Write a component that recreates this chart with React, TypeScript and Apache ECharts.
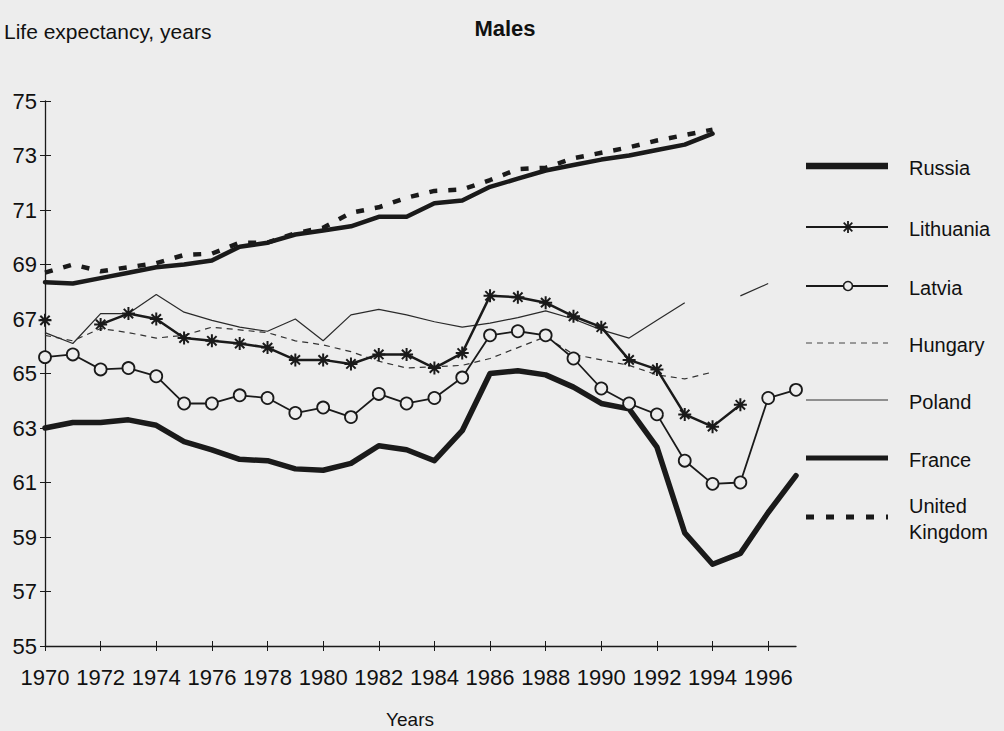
import React, { useEffect, useRef } from "react";
import * as echarts from "echarts";

// Male life expectancy at birth, 1970-1997
const years = [
  "1970", "1971", "1972", "1973", "1974", "1975", "1976", "1977", "1978", "1979",
  "1980", "1981", "1982", "1983", "1984", "1985", "1986", "1987", "1988", "1989",
  "1990", "1991", "1992", "1993", "1994", "1995", "1996", "1997",
];

const yTicks = [55, 57, 59, 61, 63, 65, 67, 69, 71, 73, 75];

const russia = [
  63.0, 63.2, 63.2, 63.3, 63.1, 62.5, 62.2, 61.85, 61.8, 61.5,
  61.45, 61.7, 62.35, 62.2, 61.8, 62.9, 65.0, 65.1, 64.95, 64.5,
  63.9, 63.7, 62.3, 59.15, 58.0, 58.4, 59.9, 61.25,
];
const lithuania = [
  66.95, null, 66.8, 67.2, 67.0, 66.3, 66.2, 66.1, 65.95, 65.5,
  65.5, 65.35, 65.7, 65.7, 65.2, 65.75, 67.85, 67.8, 67.6, 67.1,
  66.7, 65.5, 65.15, 63.5, 63.05, 63.85, null, null,
];
const latvia = [
  65.6, 65.7, 65.15, 65.2, 64.9, 63.9, 63.9, 64.2, 64.1, 63.55,
  63.75, 63.4, 64.25, 63.9, 64.1, 64.85, 66.4, 66.55, 66.4, 65.55,
  64.45, 63.9, 63.5, 61.8, 60.95, 61.0, 64.1, 64.4,
];
const hungary = [
  66.4, 66.2, 66.65, 66.5, 66.3, 66.4, 66.7, 66.6, 66.5, 66.2,
  66.05, 65.8, 65.45, 65.2, 65.25, 65.3, 65.55, 65.95, 66.35, 65.7,
  65.5, 65.3, 64.95, 64.8, 65.05, null, null, null,
];
const poland = [
  66.5, 66.1, 67.2, 67.2, 67.9, 67.25, 66.95, 66.7, 66.55, 67.0,
  66.2, 67.15, 67.35, 67.15, 66.9, 66.7, 66.85, 67.05, 67.3, 67.0,
  66.6, 66.3, 66.95, 67.6, null, 67.85, 68.3, null,
];
const france = [
  68.35, 68.3, 68.5, 68.7, 68.9, 69.0, 69.15, 69.65, 69.8, 70.1,
  70.25, 70.4, 70.75, 70.75, 71.25, 71.35, 71.85, 72.15, 72.45, 72.65,
  72.85, 73.0, 73.2, 73.4, 73.8, null, null, null,
];
const unitedKingdom = [
  68.7, 69.0, 68.75, 68.9, 69.05, 69.35, 69.4, 69.8, 69.8, 70.15,
  70.35, 70.9, 71.1, 71.45, 71.7, 71.75, 72.1, 72.5, 72.55, 72.9,
  73.1, 73.3, 73.55, 73.75, 73.95, null, null, null,
];

const INK = "#1a1a1a";
const PAPER = "#ededed";
const FONT = '"Liberation Sans", Arial, sans-serif';

const ASTERISK = "path://M5,0L5,10M0,5L10,5M1.4,1.4L8.6,8.6M1.4,8.6L8.6,1.4";

function legendRow(y: number, label: string, line: any, marker?: any[]) {
  const children: any[] = [
    {
      type: "line",
      shape: { x1: 806, y1: y, x2: 888, y2: y },
      style: { stroke: INK, lineWidth: 1, ...line },
    },
  ];
  if (marker) children.push(...marker);
  children.push({
    type: "text",
    x: 909,
    y: y + 2,
    style: {
      text: label,
      font: `20px ${FONT}`,
      fill: "#111",
      verticalAlign: "middle",
      lineHeight: 26,
    },
  });
  return { type: "group", children };
}

function asteriskMarker(cx: number, cy: number) {
  const r = 6;
  const d = r * 0.72;
  const s = { stroke: INK, lineWidth: 1.8 };
  return [
    { type: "line", shape: { x1: cx, y1: cy - r, x2: cx, y2: cy + r }, style: s },
    { type: "line", shape: { x1: cx - d, y1: cy - d, x2: cx + d, y2: cy + d }, style: s },
    { type: "line", shape: { x1: cx - d, y1: cy + d, x2: cx + d, y2: cy - d }, style: s },
  ];
}

export default function App() {
  const ref = useRef<HTMLDivElement>(null);

  useEffect(() => {
    if (!ref.current) return;
    const chart = echarts.init(ref.current, null, { renderer: "svg" });

    const baseX = {
      type: "category",
      data: years,
      boundaryGap: false,
      gridIndex: 0,
    };
    const baseY = {
      type: "value",
      min: yTicks[0],
      max: yTicks[yTicks.length - 1],
      interval: 2,
      gridIndex: 0,
      splitLine: { show: false },
    };

    chart.setOption({
      animation: false,
      backgroundColor: PAPER,
      textStyle: { fontFamily: FONT, color: "#111" },
      grid: { left: 45, right: 208, top: 101, bottom: 85, containLabel: false },
      xAxis: [
        {
          ...baseX,
          axisLine: { show: true, lineStyle: { color: INK, width: 1.3 } },
          axisTick: { show: true, interval: 1, length: 5, lineStyle: { color: INK } },
          axisLabel: {
            interval: 1,
            margin: 20,
            fontSize: 22,
            color: "#111",
            fontFamily: FONT,
          },
        },
        {
          ...baseX,
          position: "bottom",
          axisLine: { show: false },
          axisTick: { show: true, inside: true, interval: 1, length: 5, lineStyle: { color: INK } },
          axisLabel: { show: false },
        },
      ],
      yAxis: [
        {
          ...baseY,
          axisLine: { show: true, lineStyle: { color: INK, width: 1.3 } },
          axisTick: { show: true, length: 5, lineStyle: { color: INK } },
          axisLabel: { margin: 8, fontSize: 22, color: "#111", fontFamily: FONT },
        },
        {
          ...baseY,
          position: "left",
          axisLine: { show: false },
          axisTick: { show: true, inside: true, length: 6, lineStyle: { color: INK } },
          axisLabel: { show: false },
        },
      ],
      series: [
        {
          name: "Poland",
          type: "line",
          data: poland,
          symbol: "none",
          connectNulls: false,
          lineStyle: { color: "#2a2a2a", width: 1.2 },
        },
        {
          name: "Hungary",
          type: "line",
          data: hungary,
          symbol: "none",
          connectNulls: false,
          lineStyle: { color: "#333", width: 1.2, type: [6, 5] },
        },
        {
          name: "Lithuania",
          type: "line",
          data: lithuania,
          symbol: ASTERISK,
          symbolSize: 13,
          symbolKeepAspect: true,
          showAllSymbol: true,
          connectNulls: false,
          itemStyle: { color: "rgba(0,0,0,0)", borderColor: INK, borderWidth: 2 },
          lineStyle: { color: INK, width: 2.5 },
        },
        {
          name: "Latvia",
          type: "line",
          data: latvia,
          symbol: "circle",
          symbolSize: 12,
          showAllSymbol: true,
          connectNulls: false,
          itemStyle: { color: PAPER, borderColor: INK, borderWidth: 1.8 },
          lineStyle: { color: INK, width: 1.8 },
        },
        {
          name: "France",
          type: "line",
          data: france,
          symbol: "none",
          connectNulls: false,
          lineStyle: { color: INK, width: 4.5, cap: "round", join: "round" },
        },
        {
          name: "United Kingdom",
          type: "line",
          data: unitedKingdom,
          symbol: "none",
          connectNulls: false,
          lineStyle: { color: INK, width: 4.5, type: [8, 11] },
        },
        {
          name: "Russia",
          type: "line",
          data: russia,
          symbol: "none",
          connectNulls: false,
          lineStyle: { color: INK, width: 5.5, cap: "round", join: "round" },
        },
      ],
      graphic: [
        {
          type: "text",
          x: 4,
          y: 31,
          style: {
            text: "Life expectancy, years",
            font: `21px ${FONT}`,
            fill: "#111",
            verticalAlign: "middle",
          },
        },
        {
          type: "text",
          x: 505,
          y: 28,
          style: {
            text: "Males",
            font: `bold 22px ${FONT}`,
            fill: "#111",
            align: "center",
            verticalAlign: "middle",
          },
        },
        {
          type: "text",
          x: 410,
          y: 719,
          style: {
            text: "Years",
            font: `19px ${FONT}`,
            fill: "#111",
            align: "center",
            verticalAlign: "middle",
          },
        },
        legendRow(166, "Russia", { lineWidth: 6.5 }),
        legendRow(227, "Lithuania", { lineWidth: 2 }, asteriskMarker(848, 227)),
        legendRow(286, "Latvia", { lineWidth: 2 }, [
          {
            type: "circle",
            shape: { cx: 848, cy: 286, r: 4.5 },
            style: { fill: PAPER, stroke: INK, lineWidth: 1.6 },
          },
        ]),
        legendRow(343, "Hungary", { lineWidth: 1, lineDash: [6, 5], stroke: "#444" }),
        legendRow(400, "Poland", { lineWidth: 1.2, stroke: "#333" }),
        legendRow(458, "France", { lineWidth: 5 }),
        legendRow(517, "United\nKingdom", { lineWidth: 5, lineDash: [8, 12] }),
      ],
    });

    return () => chart.dispose();
  }, []);

  return (
    <div
      ref={ref}
      style={{ position: "fixed", left: 0, top: 0, width: 1004, height: 731 }}
    />
  );
}
